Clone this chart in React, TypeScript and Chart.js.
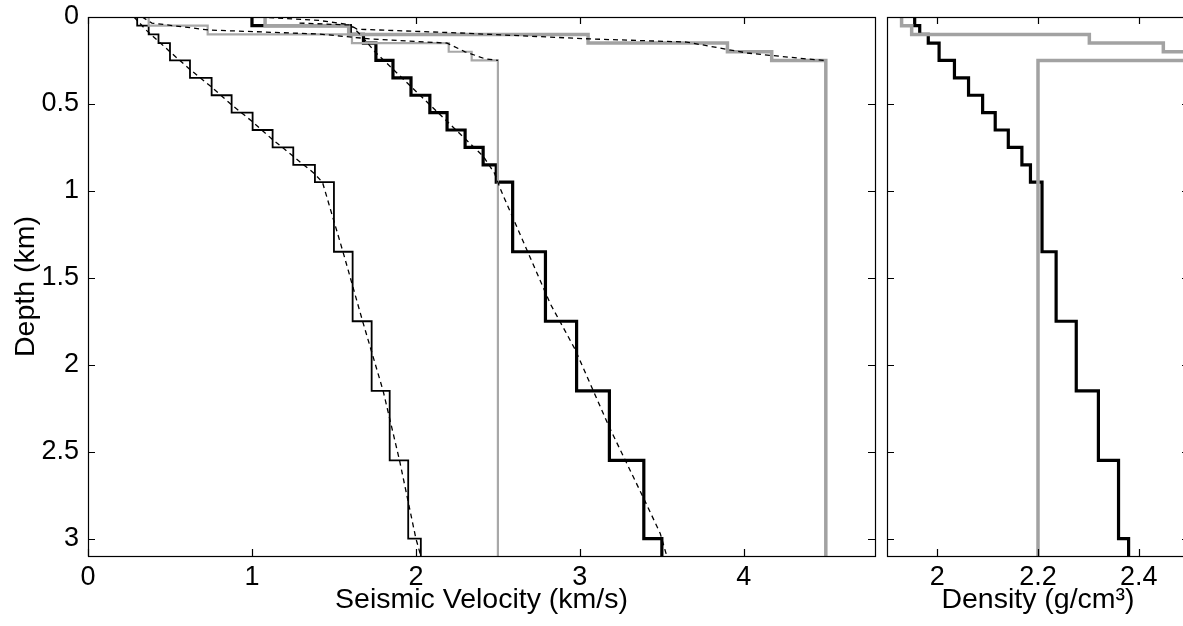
import React, { useEffect, useRef } from 'react';
import { Chart, registerables } from 'chart.js';

Chart.register(...registerables);

// ---------- data ----------
const maxDepth = 3.1;
const layerTops = [0, 0.05, 0.1, 0.15, 0.25, 0.35, 0.45, 0.55, 0.65, 0.75, 0.85, 0.95, 1.35, 1.75, 2.15, 2.55, 3.0];
const vsLayers = [0.3, 0.37, 0.43, 0.5, 0.622, 0.754, 0.876, 1.004, 1.126, 1.252, 1.384, 1.5, 1.614, 1.73, 1.84, 1.953, 2.03];
const vpLayers = [1.0, 1.6, 1.68, 1.756, 1.86, 1.97, 2.085, 2.19, 2.3, 2.41, 2.49, 2.59, 2.79, 2.98, 3.18, 3.39, 3.5];
const rhoLayers = [1.955, 1.965, 1.982, 2.0035, 2.034, 2.062, 2.09, 2.115, 2.141, 2.168, 2.185, 2.208, 2.236, 2.276, 2.32, 2.36, 2.38];

const shallowTops = [0, 0.05, 0.1, 0.15, 0.2, 0.25];
const vsShallow = [0.37, 0.73, 1.61, 2.2, 2.34, 2.5];
const vpShallow = [1.08, 1.59, 3.05, 3.9, 4.17, 4.5];
const rhoShallow = [1.929, 1.949, 2.302, 2.449, 2.56, 2.2];

const vsTrendDepth = [0, 0.08, 0.2, 0.3, 0.4, 0.5, 0.6, 0.7, 0.8, 0.9, 0.95, 1.35, 1.75, 2.15, 2.55, 3.0, 3.1];
const vsTrendValue = [0.28, 0.36, 0.5, 0.62, 0.75, 0.87, 1.0, 1.12, 1.25, 1.38, 1.43, 1.555, 1.675, 1.8, 1.9, 2.0, 2.03];
const vpTrendDepth = [0, 0.02, 0.045, 0.1, 0.2, 0.3, 0.4, 0.5, 0.6, 0.7, 0.8, 0.9, 1.0, 1.65, 1.91, 2.36, 2.79, 2.97, 3.1];
const vpTrendValue = [1.05, 1.41, 1.6, 1.66, 1.75, 1.86, 1.97, 2.08, 2.19, 2.3, 2.41, 2.48, 2.52, 2.82, 2.97, 3.18, 3.4, 3.49, 3.53];
const vsShallowTrendDepth = [0, 0.035, 0.075, 0.098, 0.126, 0.15, 0.2, 0.24, 0.25];
const vsShallowTrendValue = [0.33, 0.39, 0.74, 1.41, 1.72, 2.19, 2.3, 2.42, 2.5];
const vpShallowTrendDepth = [0.035, 0.046, 0.07, 0.092, 0.126, 0.144, 0.207, 0.241, 0.25];
const vpShallowTrendValue = [1.29, 1.6, 1.64, 2.27, 3.06, 3.65, 4.02, 4.38, 4.5];

const depthTicks = [0, 0.5, 1, 1.5, 2, 2.5, 3];
const depthTickLabels = ['0', '0.5', '1', '1.5', '2', '2.5', '3'];
const velocityTicks = [0, 1, 2, 3, 4];
const velocityTickLabels = ['0', '1', '2', '3', '4'];
const densityTicks = [2, 2.2, 2.4];
const densityTickLabels = ['2', '2.2', '2.4'];

// ---------- helpers ----------
const stepPoints = (tops: number[], vals: number[]) => {
  const pts = tops.map((d, i) => ({ x: vals[i], y: d }));
  pts.push({ x: vals[vals.length - 1], y: maxDepth });
  return pts;
};
const curvePoints = (depths: number[], vals: number[]) => depths.map((d, i) => ({ x: vals[i], y: d }));

const FONT = "'Liberation Sans', Arial, Helvetica, sans-serif";
const TICK_FONT = { family: FONT, size: 27 };
const TITLE_FONT = { family: FONT, size: 28.5 };

const framePlugin = (xTicks: number[], yTicks: number[]) => ({
  id: 'frame',
  afterDraw(chart: any) {
    const { ctx, chartArea } = chart;
    const { left, right, top, bottom } = chartArea;
    const xs = chart.scales.x;
    const ys = chart.scales.y;
    const L = 7;
    ctx.save();
    ctx.strokeStyle = '#000';
    ctx.lineWidth = 1.2;
    ctx.strokeRect(Math.round(left) + 0.5, Math.round(top) + 0.5, Math.round(right - left), Math.round(bottom - top));
    ctx.beginPath();
    xTicks.forEach((v) => {
      const p = Math.round(xs.getPixelForValue(v)) + 0.5;
      ctx.moveTo(p, top);
      ctx.lineTo(p, top + L);
      ctx.moveTo(p, bottom);
      ctx.lineTo(p, bottom - L);
    });
    yTicks.forEach((v) => {
      const p = Math.round(ys.getPixelForValue(v)) + 0.5;
      ctx.moveTo(left, p);
      ctx.lineTo(left + L, p);
      ctx.moveTo(right, p);
      ctx.lineTo(right - L, p);
    });
    ctx.stroke();
    ctx.restore();
  },
});

const line = (data: any[], color: string, width: number, order: number, stepped: any, dash: number[] = []) => ({
  data,
  showLine: true,
  borderColor: color,
  borderWidth: width,
  borderDash: dash,
  pointRadius: 0,
  fill: false,
  tension: 0,
  stepped,
  order,
  borderCapStyle: 'butt',
  borderJoinStyle: 'miter',
});

const GRAY = '#a2a2a2';
const DASH = [5, 4];

const fixY = (width: number) => (s: any) => {
  s.width = width;
  s.paddingTop = 0;
  s.paddingBottom = 0;
};
const fixX = (s: any) => {
  s.height = 70;
  s.paddingLeft = 0;
  s.paddingRight = 0;
};

export default function App() {
  const leftRef = useRef<HTMLCanvasElement>(null);
  const rightRef = useRef<HTMLCanvasElement>(null);

  useEffect(() => {
    const left = new Chart(leftRef.current as HTMLCanvasElement, {
      type: 'scatter',
      data: {
        datasets: [
          line(curvePoints(vsTrendDepth, vsTrendValue), '#000', 1.3, 0, false, DASH),
          line(curvePoints(vpTrendDepth, vpTrendValue), '#000', 1.3, 1, false, DASH),
          line(curvePoints(vsShallowTrendDepth, vsShallowTrendValue), '#000', 1.3, 2, false, DASH),
          line(curvePoints(vpShallowTrendDepth, vpShallowTrendValue), '#000', 1.3, 3, false, DASH),
          line(stepPoints(shallowTops, vpShallow), GRAY, 3.5, 4, 'after'),
          line(stepPoints(shallowTops, vsShallow), '#a8a8a8', 2.2, 5, 'after'),
          line(stepPoints(layerTops, vpLayers), '#000', 3.2, 6, 'after'),
          line(stepPoints(layerTops, vsLayers), '#000', 1.8, 7, 'after'),
        ] as any,
      },
      options: {
        animation: false,
        responsive: false,
        maintainAspectRatio: false,
        events: [],
        layout: { padding: { top: 17, right: 5, left: 0, bottom: 0 } },
        plugins: { legend: { display: false }, tooltip: { enabled: false }, title: { display: false } },
        scales: {
          x: {
            type: 'linear',
            position: 'bottom',
            min: 0,
            max: 4.8,
            grid: { display: false, drawTicks: false },
            border: { display: false },
            afterBuildTicks: (s: any) => { s.ticks = velocityTicks.map((v) => ({ value: v })); },
            afterFit: fixX,
            ticks: {
              autoSkip: false,
              maxRotation: 0,
              padding: 5,
              color: '#000',
              font: TICK_FONT,
              callback: (_v: any, i: number) => velocityTickLabels[i],
            },
            title: {
              display: true,
              text: 'Seismic Velocity (km/s)',
              color: '#000',
              font: TITLE_FONT,
              padding: { top: 0, bottom: 9 },
            },
          },
          y: {
            type: 'linear',
            position: 'left',
            reverse: true,
            min: 0,
            max: maxDepth,
            grid: { display: false, drawTicks: false },
            border: { display: false },
            afterBuildTicks: (s: any) => { s.ticks = depthTicks.map((v) => ({ value: v })); },
            afterFit: fixY(88),
            ticks: {
              autoSkip: false,
              padding: 9,
              color: '#000',
              font: TICK_FONT,
              callback: (_v: any, i: number) => depthTickLabels[i],
            },
            title: {
              display: true,
              text: 'Depth (km)',
              color: '#000',
              font: TITLE_FONT,
              padding: { top: 9, bottom: 0 },
            },
          },
        },
      } as any,
      plugins: [framePlugin(velocityTicks, depthTicks)],
    });

    const right = new Chart(rightRef.current as HTMLCanvasElement, {
      type: 'scatter',
      data: {
        datasets: [
          line(stepPoints(shallowTops, rhoShallow), GRAY, 3.5, 0, 'after'),
          line(stepPoints(layerTops, rhoLayers), '#000', 3.2, 1, 'after'),
        ] as any,
      },
      options: {
        animation: false,
        responsive: false,
        maintainAspectRatio: false,
        events: [],
        layout: { padding: { top: 17, right: 9, left: 0, bottom: 0 } },
        plugins: { legend: { display: false }, tooltip: { enabled: false }, title: { display: false } },
        scales: {
          x: {
            type: 'linear',
            position: 'bottom',
            min: 1.9,
            max: 2.5,
            grid: { display: false, drawTicks: false },
            border: { display: false },
            afterBuildTicks: (s: any) => { s.ticks = densityTicks.map((v) => ({ value: v })); },
            afterFit: fixX,
            ticks: {
              autoSkip: false,
              maxRotation: 0,
              padding: 5,
              color: '#000',
              font: TICK_FONT,
              callback: (_v: any, i: number) => densityTickLabels[i],
            },
            title: {
              display: true,
              text: 'Density (g/cm³)',
              color: '#000',
              font: TITLE_FONT,
              padding: { top: 0, bottom: 9 },
            },
          },
          y: {
            type: 'linear',
            position: 'left',
            reverse: true,
            min: 0,
            max: maxDepth,
            grid: { display: false, drawTicks: false },
            border: { display: false },
            afterBuildTicks: (s: any) => { s.ticks = depthTicks.map((v) => ({ value: v })); },
            afterFit: fixY(9),
            ticks: { display: false },
            title: { display: false },
          },
        },
      } as any,
      plugins: [framePlugin(densityTicks, depthTicks)],
    });

    return () => {
      left.destroy();
      right.destroy();
    };
  }, []);

  return (
    <div style={{ position: 'absolute', left: 0, top: 0, width: 1183, height: 626, overflow: 'hidden', background: '#fff' }}>
      <canvas ref={leftRef} width={880} height={626} style={{ position: 'absolute', left: 0, top: 0, width: 880, height: 626 }} />
      <canvas ref={rightRef} width={320} height={626} style={{ position: 'absolute', left: 878, top: 0, width: 320, height: 626 }} />
    </div>
  );
}
